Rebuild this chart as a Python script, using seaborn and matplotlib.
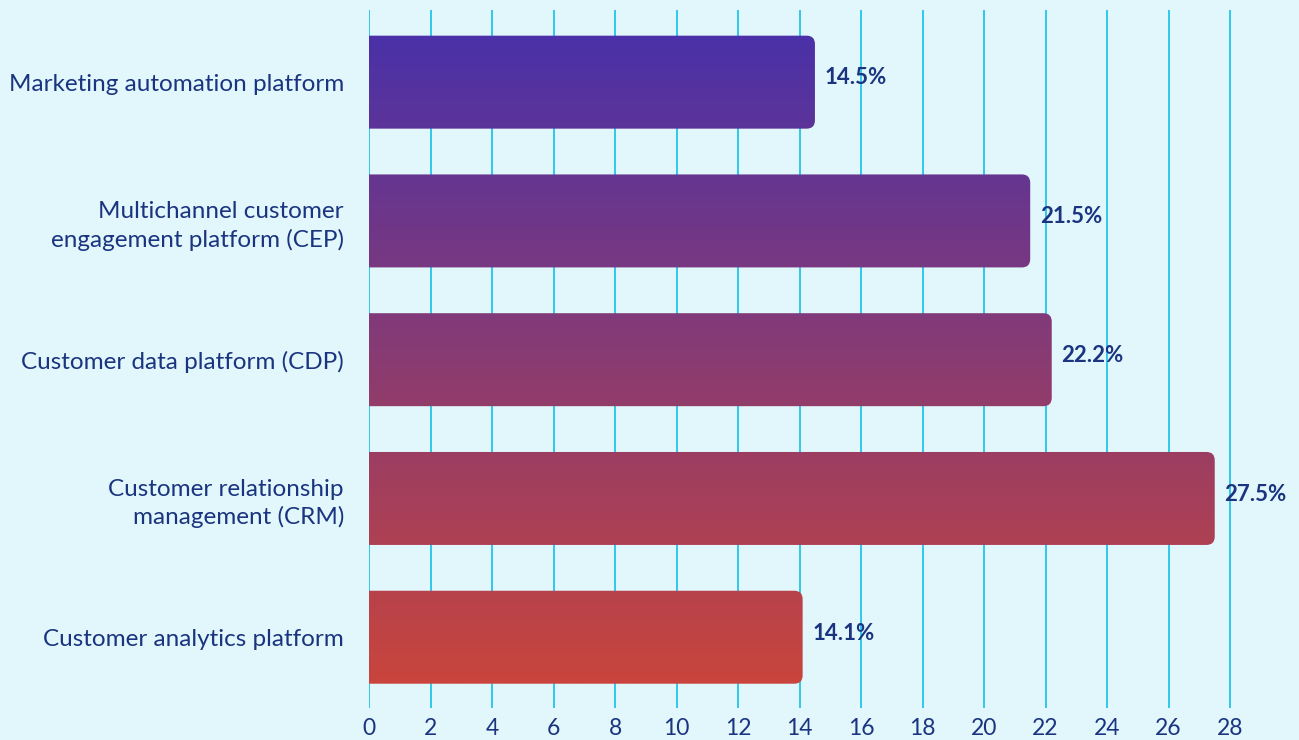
import numpy as np
import pandas as pd
import matplotlib
matplotlib.use("Agg")
import matplotlib.pyplot as plt
from matplotlib.patches import FancyBboxPatch
from matplotlib.colors import LinearSegmentedColormap
import seaborn as sns

# Share of respondents by platform type
categories = [
    "Marketing automation platform",
    "Multichannel customer\nengagement platform (CEP)",
    "Customer data platform (CDP)",
    "Customer relationship\nmanagement (CRM)",
    "Customer analytics platform",
]
values = [14.5, 21.5, 22.2, 27.5, 14.1]
x_ticks = list(range(0, 30, 2))

BG = "#E2F7FC"
GRID = "#22C3EC"
NAVY = "#1A347F"
TOP_COLOR = "#4A31A8"
BOTTOM_COLOR = "#C9453C"

sns.set_theme(style="white")
plt.rcParams["font.family"] = ["Lato", "DejaVu Sans"]

df = pd.DataFrame({"category": categories, "value": values})
cmap = LinearSegmentedColormap.from_list("bars", [TOP_COLOR, BOTTOM_COLOR])

fig = plt.figure(figsize=(12.99, 7.40), dpi=100, facecolor=BG)
ax = fig.add_axes([369 / 1299, 1 - 708 / 740, 1 - 369 / 1299, 698 / 740])
ax.set_facecolor(BG)

sns.barplot(data=df, y="category", x="value", orient="h", width=0.67,
            color=TOP_COLOR, ax=ax, zorder=2)

ax.set_xlim(0, 30.24)
ax.set_ylim(len(categories) - 0.49, -0.52)
ax.set_xticks(x_ticks)
ax.set_xticklabels([str(t) for t in x_ticks])
ax.grid(axis="x", color=GRID, linewidth=1.3, zorder=0)
ax.grid(axis="y", visible=False)
ax.set_axisbelow(True)
for s in ax.spines.values():
    s.set_visible(False)
ax.set_xlabel("")
ax.set_ylabel("")
ax.tick_params(axis="x", length=0, pad=7, labelsize=16.5, labelcolor=NAVY)
ax.tick_params(axis="y", length=0, pad=18, labelsize=17.5, labelcolor=NAVY)
for lbl in ax.get_yticklabels():
    lbl.set_linespacing(1.35)
    lbl.set_horizontalalignment("right")

# Vertical gradient spanning all bars, with rounded right ends
patches = list(ax.patches)
y_top = min(p.get_y() for p in patches)
y_bot = max(p.get_y() + p.get_height() for p in patches)
grad = np.linspace(0, 1, 256).reshape(-1, 1)
for p, v in zip(patches, values):
    x0, y0, h = p.get_x(), p.get_y(), p.get_height()
    p.set_visible(False)
    box = FancyBboxPatch((x0 - 1.0, y0), v + 1.0, h,
                         boxstyle="round,pad=0,rounding_size=0.27",
                         mutation_aspect=0.222,
                         facecolor="none", edgecolor="none", zorder=2)
    ax.add_patch(box)
    im = ax.imshow(grad, cmap=cmap, aspect="auto",
                   extent=(0, 30.24, y_bot, y_top), zorder=2,
                   interpolation="bilinear")
    im.set_clip_path(box)
    ax.annotate(f"{v:.1f}%", xy=(v, y0 + h / 2), xytext=(7, 3),
                textcoords="offset points", ha="left", va="center",
                fontsize=16, fontweight="bold", color=NAVY, zorder=3)

ax.set_xlim(0, 30.24)
ax.set_ylim(len(categories) - 0.49, -0.52)

fig.savefig("out.png", dpi=100, facecolor=BG)
